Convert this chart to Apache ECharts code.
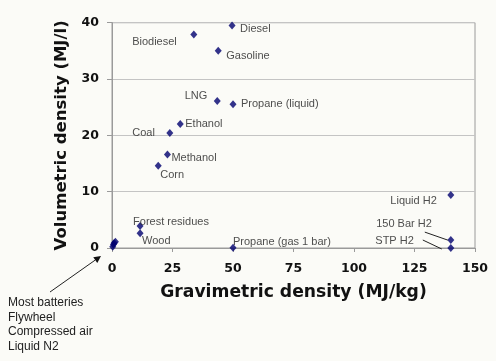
<!DOCTYPE html>
<html>
<head>
<meta charset="utf-8">
<script src="https://cdn.jsdelivr.net/npm/echarts@6/dist/echarts.min.js"></script>
<style>html,body{margin:0;padding:0;background:#fbfbf7;}#c{width:496px;height:361px;}</style>
</head>
<body>
<div id="c"></div>
<script>
// Data
var names = ['Diesel','Biodiesel','Gasoline','LNG','Propane (liquid)','Ethanol','Coal','Methanol','Corn',
             'Forest residues','Wood','Propane (gas 1 bar)','Liquid H2','150 Bar H2','STP H2',
             'Batteries','Flywheel','Compressed air','Liquid N2'];
var gravimetric = [49.6, 33.8, 43.9, 43.5, 50.0, 28.2, 23.9, 22.9, 19.1,
                   11.6, 11.6, 50.0, 140.0, 140.0, 140.0,
                   0.3, 0.6, 0.9, 1.4];
var volumetric = [39.5, 37.9, 35.0, 26.1, 25.5, 22.0, 20.4, 16.6, 14.6,
                  3.9, 2.6, 0.05, 9.4, 1.4, 0.0,
                  0.2, 0.6, 0.9, 1.1];
var xTicks = [0, 25, 50, 75, 100, 125, 150];
var yTicks = [0, 10, 20, 30, 40];

// Label placement (pixel offsets from point), kept separate from the data
var labelPlace = {
  'Diesel': ['left', 8, 3],
  'Biodiesel': ['right', -17, 7],
  'Gasoline': ['left', 8, 5],
  'LNG': ['right', -10, -5],
  'Propane (liquid)': ['left', 8, 0],
  'Ethanol': ['left', 5, 0],
  'Coal': ['right', -15, 0],
  'Methanol': ['left', 4, 3],
  'Corn': ['left', 2, 9],
  'Forest residues': ['left', -7, -4],
  'Wood': ['left', 2, 8],
  'Propane (gas 1 bar)': ['left', 0, -6],
  'Liquid H2': ['right', -14, 6],
  '150 Bar H2': ['right', -19, -16],
  'STP H2': ['right', -37, -7]
};

var seriesData = names.map(function (n, i) {
  var p = labelPlace[n];
  var d = { name: n, value: [gravimetric[i], volumetric[i]] };
  if (p) {
    d.label = { show: true, position: 'inside', align: p[0], verticalAlign: 'middle', offset: [p[1], p[2]], formatter: n };
  } else {
    d.label = { show: false };
  }
  return d;
});

var chart = echarts.init(document.getElementById('c'), null, { renderer: 'canvas' });
var axisFont = { fontFamily: 'DejaVu Sans', fontWeight: 'bold', fontSize: 12.5, color: '#111' };
chart.setOption({
  backgroundColor: '#fbfbf7',
  animation: false,
  grid: { left: 112, right: 21, top: 22.7, bottom: 113, show: true, borderColor: '#9a9a9a', borderWidth: 1, backgroundColor: 'transparent' },
  xAxis: {
    type: 'value', min: 0, max: 150, interval: 25,
    name: 'Gravimetric density (MJ/kg)', nameLocation: 'middle', nameGap: 36,
    nameTextStyle: { fontFamily: 'DejaVu Sans', fontWeight: 'bold', fontSize: 17.2, color: '#111' },
    axisLine: { show: true, lineStyle: { color: '#9a9a9a' } },
    axisTick: { show: true, length: 4, lineStyle: { color: '#9a9a9a' } },
    splitLine: { show: false },
    axisLabel: Object.assign({ margin: 14, formatter: function (v) { return xTicks.indexOf(v) >= 0 ? String(v) : ''; } }, axisFont)
  },
  yAxis: {
    type: 'value', min: 0, max: 40, interval: 10,
    name: 'Volumetric density (MJ/l)', nameLocation: 'middle', nameGap: 41,
    nameTextStyle: { fontFamily: 'DejaVu Sans', fontWeight: 'bold', fontSize: 16.5, color: '#111' },
    axisLine: { show: true, lineStyle: { color: '#9a9a9a' } },
    axisTick: { show: true, length: 5, lineStyle: { color: '#9a9a9a' } },
    splitLine: { show: true, lineStyle: { color: '#c4c4c4' } },
    axisLabel: Object.assign({ margin: 13, formatter: function (v) { return yTicks.indexOf(v) >= 0 ? String(v) : ''; } }, axisFont)
  },
  series: [{
    type: 'scatter',
    symbol: 'diamond',
    symbolSize: [7, 8],
    itemStyle: { color: '#00006e' },
    label: { fontFamily: 'Liberation Sans', fontSize: 11, color: '#222' },
    data: seriesData,
    z: 3
  }]
});

// Annotations: leader lines and arrow, placed relative to data points
function px(x, y) { return chart.convertToPixel({ gridIndex: 0 }, [x, y]); }
var i150 = names.indexOf('150 Bar H2'), iStp = names.indexOf('STP H2');
var p150 = px(gravimetric[i150], volumetric[i150]);
var pStp = px(gravimetric[iStp], volumetric[iStp]);
var o = px(0, 0);
var lineStyle = { stroke: '#222', lineWidth: 1 };
var tip = [o[0] - 11, o[1] + 8];
var tail = [o[0] - 62, o[1] + 44];
var ang = Math.atan2(tip[1] - tail[1], tip[0] - tail[0]);
var ah = 7, aw = 3.5;
var base = [tip[0] - ah * Math.cos(ang), tip[1] - ah * Math.sin(ang)];
var arrowHead = [tip,
  [base[0] + aw * Math.sin(ang), base[1] - aw * Math.cos(ang)],
  [base[0] - aw * Math.sin(ang), base[1] + aw * Math.cos(ang)]];
chart.setOption({
  graphic: [
    { type: 'line', shape: { x1: p150[0] - 26, y1: p150[1] - 8, x2: p150[0] - 3, y2: p150[1] }, style: lineStyle, z: 10 },
    { type: 'line', shape: { x1: pStp[0] - 28, y1: pStp[1] - 8, x2: pStp[0] - 9, y2: pStp[1] + 1 }, style: lineStyle, z: 10 },
    { type: 'line', shape: { x1: tail[0], y1: tail[1], x2: base[0], y2: base[1] }, style: lineStyle, z: 10 },
    { type: 'polygon', shape: { points: arrowHead }, style: { fill: '#111' }, z: 10 },
    { type: 'text', left: 8, top: 295, style: { text: 'Most batteries\nFlywheel\nCompressed air\nLiquid N2', font: '12px "Liberation Sans"', fill: '#222', lineHeight: 14.8 }, z: 10 }
  ]
});
</script>
</body>
</html>
